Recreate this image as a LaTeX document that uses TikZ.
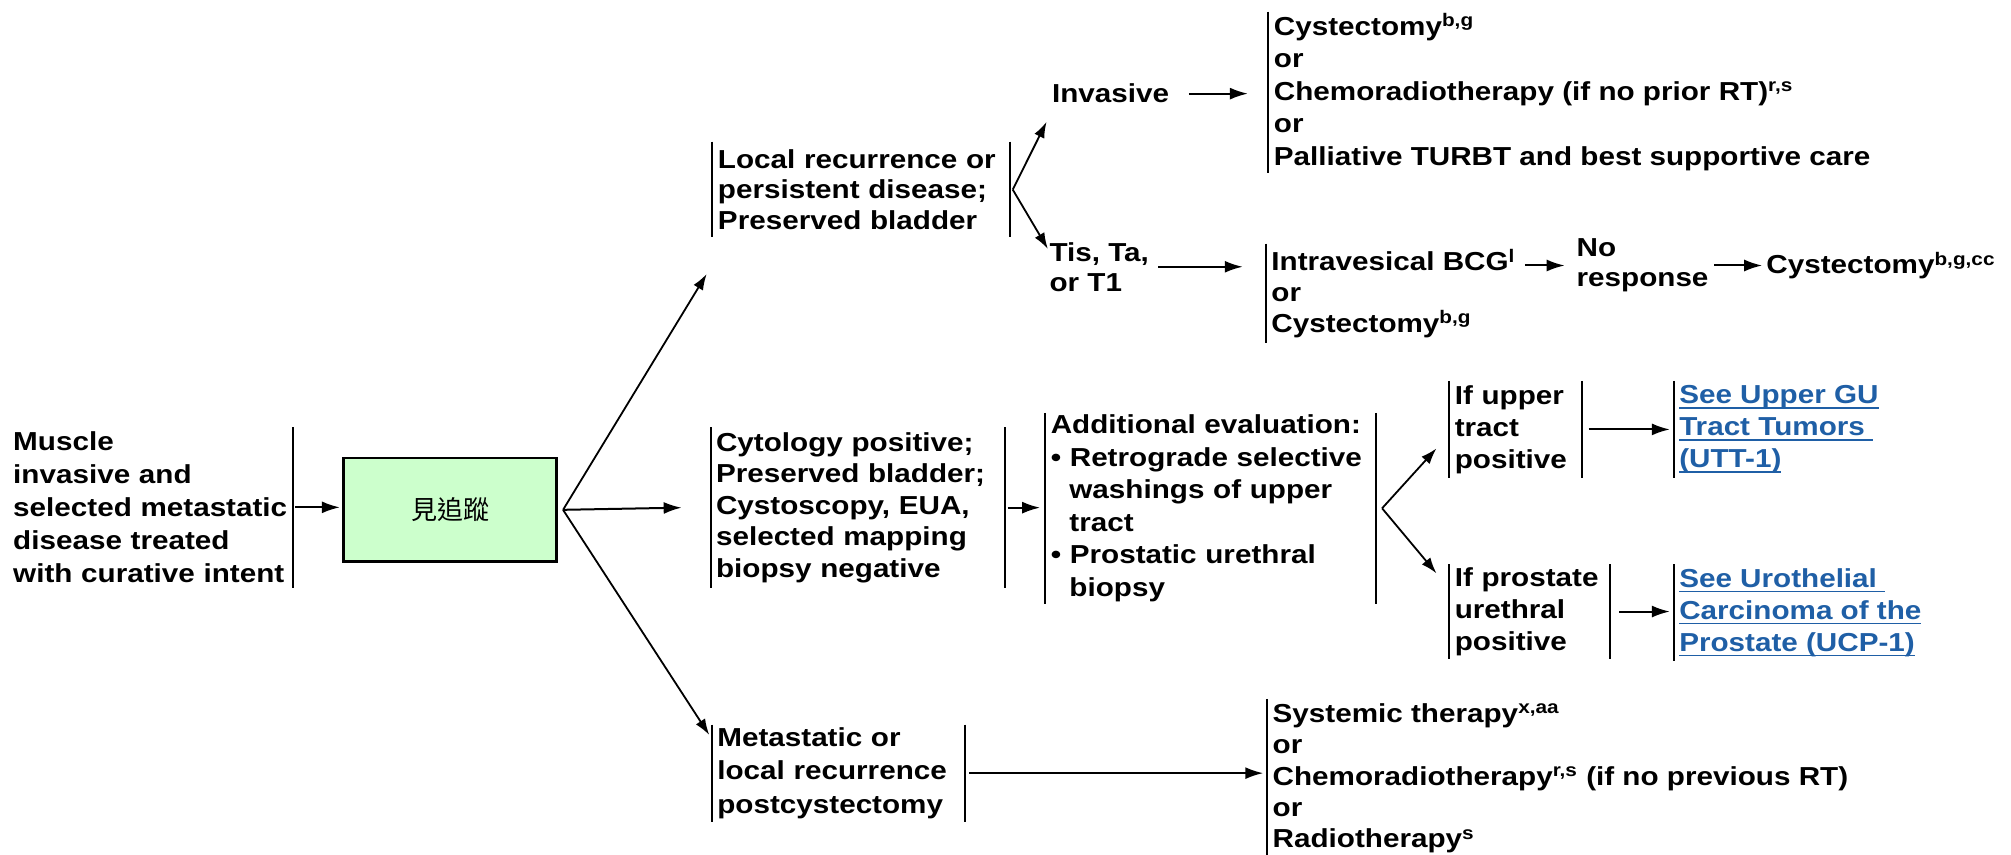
\documentclass[tikz,border=0pt]{standalone}
\usepackage{fontspec}
\setmainfont{Liberation Sans}[FakeStretch=1.14]
\newfontfamily\cjkfont{Noto Sans CJK TC}
\usetikzlibrary{arrows.meta,calc}
\newlength\su \setlength\su{0.641pt}
\newlength\bul
\definecolor{linkblue}{HTML}{1F5FA6}
\definecolor{boxgreen}{HTML}{CCFFCC}
% link text with a heavier underline
\newcommand\lnk[1]{\leavevmode\setbox0\hbox{#1}%
  \rlap{\raisebox{-2.4pt}{\rule{\wd0}{0.9pt}}}\box0}
\newcommand\sups[1]{\textsuperscript{#1}}

\begin{document}
\settowidth\bul{\bfseries\fontsize{13}{16}\selectfont\textbullet\ }
\begin{tikzpicture}[x=0.641pt,y=-0.641pt,
  blk/.style={font=\bfseries\fontsize{13}{#1}\selectfont, align=left,
    anchor=north west, inner xsep=4*\su, inner ysep=0pt},
  blk/.default=16,
  plain/.style={font=\bfseries\fontsize{13}{15}\selectfont, align=left, inner sep=0pt, anchor=west},
  bar/.style={line width=1pt},
  arr/.style={line width=1pt, -{Latex[length=9pt,width=6pt]}},
  fan/.style={line width=0.9pt, -{Latex[length=8pt,width=5.5pt]}},
  gbox/.style={draw, line width=1.3pt, fill=boxgreen, inner sep=0pt,
    font=\cjkfont\fontsize{13}{15}\selectfont},
  lk/.style={text=linkblue}
]
\fill[white] (0,0) rectangle (1568,666);
\useasboundingbox (0,0) rectangle (1568,666);

% ---- entry and follow-up box
\node[blk=16.5, inner xsep=2*\su, text width=215.5*\su, minimum height=124.5*\su] (A) at (8,333)
  {Muscle\\invasive and\\selected metastatic\\disease treated\\with curative intent};
\node[gbox, minimum width=166*\su, minimum height=81*\su] (B) at (351,397.5) {見追蹤};

% ---- three branches
\node[blk=15.2, text width=223.5*\su, minimum height=74*\su] (C1) at (555.5,110.5)
  {Local recurrence or\\persistent disease;\\Preserved bladder};
\node[blk=15.8, text width=221*\su, minimum height=125*\su] (C2) at (554,333)
  {Cytology positive;\\Preserved bladder;\\Cystoscopy, EUA,\\selected mapping\\biopsy negative};
\node[blk=16.7, text width=189*\su, minimum height=75*\su] (G) at (555,565)
  {Metastatic or\\local recurrence\\postcystectomy};

% ---- local recurrence branch
\node[plain] (D1) at (820,73) {Invasive};
\node[plain] (D2) at (818,208) {Tis, Ta,\\or T1};
\node[blk=16.3, minimum height=125*\su] (E1) at (989,9)
  {Cystectomy\sups{b,g}\\or\\Chemoradiotherapy (if no prior RT)\sups{r,s}\\or\\Palliative TURBT and best supportive care};
\node[blk=15.4, minimum height=77*\su] (E2) at (987,190)
  {Intravesical BCG\sups{l}\\or\\Cystectomy\sups{b,g}};
\node[plain] (NR) at (1229,207) {No\\response};
\node[plain] (CC) at (1377,207) {Cystectomy\sups{b,g,cc}};

% ---- cytology positive branch
\node[blk=16.3, text width=249*\su, minimum height=148*\su] (D3) at (815,322)
  {Additional evaluation:\\\textbullet\ Retrograde selective\\\hspace*{\bul}washings of upper\\\hspace*{\bul}tract\\\textbullet\ Prostatic urethral\\\hspace*{\bul}biopsy};
\node[blk=16, text width=95*\su, minimum height=75*\su] (E3) at (1130,297)
  {If upper\\tract\\positive};
\node[blk=16, text width=117*\su, minimum height=73*\su] (E4) at (1130,440)
  {If prostate\\urethral\\positive};
\node[blk=16, lk, minimum height=75*\su] (F3) at (1305,297)
  {\lnk{See Upper GU}\\\lnk{Tract Tumors\ }\\\lnk{(UTT-1)}};
\node[blk=16, lk, minimum height=75*\su] (F4) at (1305,440)
  {\lnk{See Urothelial\ }\\\lnk{Carcinoma of the}\\\lnk{Prostate (UCP-1)}};

% ---- metastatic branch
\node[blk=15.7, minimum height=123*\su] (H) at (988,545)
  {Systemic therapy\sups{x,aa}\\or\\Chemoradiotherapy\sups{r,s} (if no previous RT)\\or\\Radiotherapy\sups{s}};

% ---- side bars of the text blocks
\foreach \n in {C1,C2,G,E1,E2,D3,E3,E4,F3,F4,H}
  \draw[bar] (\n.north west) -- (\n.south west);
\foreach \n in {A,C1,C2,G,D3,E3,E4}
  \draw[bar] (\n.north east) -- (\n.south east);

% ---- connectors
\draw[arr] ([xshift=2*\su]A.east) -- ([xshift=-2*\su]A.east -| B.west);
\coordinate (bo) at ([xshift=4*\su]B.east);
\draw[fan] (bo) -- ($(C1.south west)+(-4.5,28.5)$);
\draw[arr] (bo) -- ($(C2.west)+(-22.5,0)$);
\draw[fan] (bo) -- ($(G.north west)+(-2,8)$);

\coordinate (co) at ([xshift=2*\su]C1.east);
\draw[fan] (co) -- ($(D1.west)+(-4,22)$);
\draw[fan] (co) -- ($(D2.west)+(-1,-14)$);
\draw[arr] ([xshift=15*\su]D1.east) -- ([xshift=-16*\su]E1.west |- D1.east);
\draw[arr] ([xshift=7*\su]D2.east) -- ([xshift=-18*\su]E2.west |- D2.east);
\draw[arr] ([xshift=3*\su]E2.east |- NR.west) -- ([xshift=-9*\su]NR.west);
\draw[arr] ([xshift=4*\su]NR.east) -- ([xshift=-3*\su]CC.west);

\draw[arr] ([xshift=2*\su]C2.east) -- ([xshift=-4*\su]D3.west |- C2.east);
\coordinate (do) at ([xshift=5*\su]D3.east);
\draw[fan] (do) -- ($(E3.south west)+(-10,-23)$);
\draw[fan] (do) -- ($(E4.north west)+(-10,7)$);
\draw[arr] ([xshift=5*\su]E3.east) -- ([xshift=-3*\su]F3.west |- E3.east);
\draw[arr] ([xshift=7*\su]E4.east) -- ([xshift=-3*\su]F4.west |- E4.east);

\draw[arr] ([xshift=3*\su]G.east) -- ([xshift=-3*\su]H.west |- G.east);
\end{tikzpicture}
\end{document}
